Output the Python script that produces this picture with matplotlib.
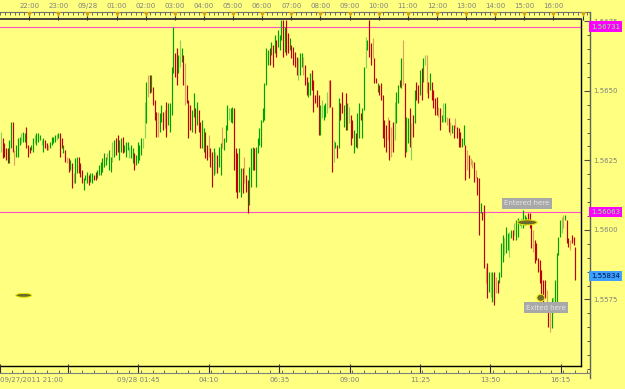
import matplotlib
matplotlib.use("Agg")
import matplotlib.pyplot as plt
import numpy as np
from matplotlib.patches import Ellipse
from matplotlib.ticker import FixedLocator, MultipleLocator, FixedFormatter, NullFormatter, FormatStrFormatter
import matplotlib.transforms as mtrans

# ---------------- data ----------------
bar_first_min = 2      # minutes after 09/27/2011 21:00
bar_last_min = 1185

highs = [
 1.56353,1.56331,1.56313,1.56295,1.56295,1.56324,1.56389,1.56389,1.56288,1.56306,
 1.56331,1.56335,1.56349,1.56353,1.56349,1.56371,1.56306,1.56299,1.56306,1.56331,
 1.56342,1.56349,1.56349,1.56342,1.56324,1.56331,1.56324,1.56313,1.56306,1.56317,
 1.56335,1.56335,1.56342,1.56346,1.56349,1.56349,1.56331,1.56306,1.56288,1.56263,
 1.56259,1.56252,1.56241,1.56205,1.56259,1.56263,1.56263,1.56241,1.56216,1.56187,
 1.56198,1.56209,1.56198,1.56205,1.56205,1.56198,1.56209,1.56216,1.56234,1.56245,
 1.56259,1.56277,1.56263,1.56277,1.56288,1.56263,1.56317,1.56324,1.56331,1.56342,
 1.56324,1.56331,1.56335,1.56306,1.56317,1.56317,1.56299,1.56306,1.56295,1.56277,
 1.56270,1.56317,1.56306,1.56331,1.56331,
 1.56461,1.56533,1.56558,1.56558,1.56558,1.56515,1.56468,1.56425,1.56425,1.56421,
 1.56450,1.56425,1.56432,1.56461,1.56457,1.56457,1.56587,1.56731,1.56637,1.56655,
 1.56630,1.56684,1.56655,1.56630,1.56601,1.56522,1.56468,1.56450,1.56432,1.56493,
 1.56439,1.56461,1.56432,1.56389,1.56396,1.56367,1.56353,1.56306,1.56342,1.56295,
 1.56281,1.56295,1.56281,1.56270,1.56299,1.56313,1.56371,1.56331,1.56378,1.56450,
 1.56439,1.56439,1.56443,1.56439,1.56295,1.56277,1.56295,1.56223,1.56223,1.56263,
 1.56198,1.56180,1.56227,1.56295,1.56299,1.56295,1.56299,1.56331,1.56367,1.56396,
 1.56439,1.56529,1.56655,1.56648,1.56655,1.56677,1.56666,1.56702,1.56684,1.56720,
 1.56702,1.56756,1.56756,1.56731,1.56756,
 1.56709,1.56691,1.56666,1.56659,1.56641,1.56623,1.56619,1.56637,1.56637,1.56623,
 1.56594,1.56551,1.56533,1.56565,1.56576,1.56540,1.56486,1.56504,1.56486,1.56450,
 1.56468,1.56450,1.56457,1.56497,1.56540,1.56540,1.56443,1.56324,1.56317,1.56306,
 1.56475,1.56457,1.56497,1.56450,1.56493,1.56457,1.56443,1.56414,1.56396,1.56360,
 1.56349,1.56421,1.56457,1.56421,1.56439,1.56587,1.56695,1.56684,1.56756,1.56673,
 1.56691,1.56619,1.56547,1.56529,1.56522,1.56529,1.56486,1.56396,1.56378,1.56407,
 1.56396,1.56371,1.56389,1.56461,1.56497,1.56522,1.56540,1.56619,1.56684,1.56529,
 1.56407,1.56403,1.56439,1.56385,1.56414,1.56504,1.56533,1.56522,1.56576,1.56583,
 1.56619,1.56630,1.56630,1.56533,1.56565,1.56533,1.56504,1.56475,
 1.56479,1.56443,1.56439,1.56414,1.56457,1.56457,1.56407,1.56403,1.56389,1.56378,
 1.56378,1.56403,1.56371,1.56367,1.56353,1.56331,1.56378,1.56306,1.56288,1.56270,
 1.56259,1.56252,1.56245,1.56216,1.56191,1.56187,1.56097,1.56065,1.56090,1.55867,
 1.55881,1.55849,1.55849,1.55849,1.55849,1.55831,1.55820,1.55849,1.55953,1.55982,
 1.55971,1.56011,1.55989,1.55993,1.56000,1.56000,1.56025,1.56036,1.56043,1.56036,
 1.56043,1.56072,1.56054,1.56047,1.56061,1.56061,1.56029,1.56000,1.55964,1.55953,
 1.55899,1.55892,1.55856,1.55820,1.55820,1.55784,1.55712,1.55712,1.55755,1.55759,
 1.55820,1.55917,1.55975,1.56036,1.56047,1.56054,1.56054,1.56036,1.55971,1.55964,
 1.55982,1.55975,1.55939,
]

lows = [
 1.56281,1.56259,1.56263,1.56252,1.56241,1.56241,1.56295,1.56281,1.56234,1.56263,
 1.56263,1.56306,1.56313,1.56317,1.56317,1.56295,1.56263,1.56277,1.56288,1.56281,
 1.56313,1.56306,1.56317,1.56324,1.56306,1.56281,1.56295,1.56288,1.56288,1.56295,
 1.56306,1.56313,1.56317,1.56324,1.56331,1.56263,1.56295,1.56277,1.56245,1.56241,
 1.56209,1.56216,1.56151,1.56169,1.56169,1.56205,1.56205,1.56191,1.56169,1.56144,
 1.56180,1.56169,1.56162,1.56173,1.56169,1.56180,1.56180,1.56187,1.56198,1.56198,
 1.56209,1.56227,1.56234,1.56252,1.56216,1.56209,1.56245,1.56263,1.56270,1.56281,
 1.56252,1.56281,1.56277,1.56281,1.56263,1.56288,1.56259,1.56259,1.56241,1.56216,
 1.56234,1.56241,1.56252,1.56270,1.56295,
 1.56331,1.56385,1.56479,1.56493,1.56497,1.56450,1.56396,1.56335,1.56335,1.56353,
 1.56389,1.56360,1.56367,1.56335,1.56378,1.56353,1.56414,1.56565,1.56551,1.56522,
 1.56565,1.56587,1.56605,1.56522,1.56450,1.56457,1.56331,1.56360,1.56353,1.56407,
 1.56349,1.56378,1.56353,1.56295,1.56295,1.56281,1.56259,1.56252,1.56263,1.56227,
 1.56155,1.56198,1.56205,1.56205,1.56227,1.56198,1.56295,1.56288,1.56317,1.56360,
 1.56396,1.56389,1.56385,1.56216,1.56137,1.56115,1.56137,1.56119,1.56133,1.56169,
 1.56137,1.56061,1.56090,1.56155,1.56216,1.56216,1.56155,1.56277,1.56306,1.56299,
 1.56389,1.56396,1.56522,1.56594,1.56594,1.56630,1.56587,1.56637,1.56623,1.56659,
 1.56648,1.56684,1.56623,1.56641,1.56630,
 1.56637,1.56648,1.56619,1.56594,1.56587,1.56558,1.56540,1.56558,1.56587,1.56558,
 1.56522,1.56486,1.56479,1.56486,1.56504,1.56425,1.56457,1.56443,1.56342,1.56342,
 1.56403,1.56396,1.56407,1.56421,1.56439,1.56443,1.56209,1.56245,1.56295,1.56259,
 1.56295,1.56396,1.56421,1.56371,1.56360,1.56360,1.56385,1.56306,1.56331,1.56277,
 1.56299,1.56295,1.56331,1.56396,1.56331,1.56432,1.56583,1.56648,1.56623,1.56594,
 1.56619,1.56529,1.56529,1.56497,1.56486,1.56468,1.56331,1.56299,1.56281,1.56324,
 1.56252,1.56263,1.56281,1.56324,1.56385,1.56457,1.56515,1.56511,1.56522,1.56263,
 1.56281,1.56313,1.56299,1.56252,1.56335,1.56385,1.56468,1.56457,1.56486,1.56468,
 1.56533,1.56594,1.56493,1.56475,1.56504,1.56468,1.56439,1.56414,
 1.56414,1.56407,1.56360,1.56389,1.56389,1.56389,1.56378,1.56353,1.56342,1.56349,
 1.56331,1.56367,1.56331,1.56299,1.56299,1.56299,1.56306,1.56180,1.56216,1.56187,
 1.56234,1.56223,1.56173,1.56187,1.56126,1.55982,1.56061,1.56036,1.55863,1.55809,
 1.55755,1.55777,1.55759,1.55741,1.55730,1.55773,1.55773,1.55809,1.55831,1.55885,
 1.55910,1.55917,1.55928,1.55903,1.55971,1.55964,1.55982,1.55964,1.55975,1.56018,
 1.56007,1.56007,1.56018,1.56025,1.56025,1.56007,1.55935,1.55921,1.55881,1.55892,
 1.55849,1.55809,1.55759,1.55737,1.55755,1.55712,1.55651,1.55633,1.55647,1.55701,
 1.55737,1.55737,1.55910,1.55975,1.55989,1.56007,1.56036,1.55953,1.55939,1.55928,
 1.55953,1.55946,1.55820,
]

# candle category: G up (wick), g up (body), R down (wick), o down (body)
kinds = ("gRRRRGGRoG" "GGgGGRRRGG" "gGGGgGRRoG" "GGGgGRRGRo" "RGRoGGRRRG"
         "GGRGGRRGGG" "GGGoGGgGRR" "GGRGGGgGGR" "GGGGg"
         "gGoRGRRRoG" "GRoRGGGGRR" "GgGRoRRRGG" "RGRRGGRRoR" "RGgRGGoGGG"
         "gGGRRRGGRo" "RRGGGRGGGG" "GGGGRGRGRG" "GGRGR"
         "RGRRRRgGGo" "RRGGRRRRRG" "gGGgoRRgGR" "GRRGRGgRRG" "RGGRGGgGRR"
         "oRRGRRRRRo" "RoRgGGRGoR" "GGRgRGRRGR" "GgoRGRRR"
         "RoRGgGoRoG" "RoRRRGGRoR" "ooRoRRGRRo" "RGgGRoRGGG" "gGGgGRgGGG"
         "gGGGRRRoRR" "RRRRRoRoGg" "GGGGgoGRRo" "RRR")

hline_levels = [1.56731, 1.56063]
last_price = 1.55834
price_ticks = [1.5575, 1.5600, 1.5625, 1.5650, 1.5675]

top_tick_min = [60, 120, 180, 240, 300, 360, 420, 480, 540, 600, 660, 720,
                780, 840, 900, 960, 1020, 1080, 1140, 1200]
top_tick_lbl = ["22:00", "23:00", "09/28", "01:00", "02:00", "03:00", "04:00",
                "05:00", "06:00", "07:00", "08:00", "09:00", "10:00", "11:00",
                "12:00", "13:00", "14:00", "15:00", "16:00", ""]
bot_tick_min = [0, 140, 285, 430, 575, 720, 865, 1010, 1155]
bot_tick_lbl = ["09/27/2011 21:00", "", "09/28 01:45", "04:10", "06:35",
                "09:00", "11:25", "13:50", "16:15"]

entered = (1085, 1.56095, "Entered here")
exited = (1125, 1.55720, "Exited here")
marks = [(1086, 1.56027, 41, 0.00018), (1114, 1.55756, 16, 0.00025),
         (49, 1.55765, 33, 0.00014)]

# ---------------- layout ----------------
W, H = 625, 389
MPP = 2.06          # minutes per pixel
Y_LO, Y_HI = 1.55511, 1.56758
BG = '#FFFF80'
GRAY = '#808080'
FS = 5.0
plt.rcParams['font.family'] = ['DejaVu Sans']

def fx(px):
    return px / W

def fy(py):
    return 1 - py / H

fig = plt.figure(figsize=(W / 100, H / 100), dpi=100, facecolor=BG)

# main plot
ax = fig.add_axes([0, fy(366), fx(581), (366 - 19) / H])
ax.set_facecolor(BG)
ax.set_xlim(0, 581 * MPP)
ax.set_ylim(Y_LO, Y_HI)
ax.set_xticks([])
ax.set_yticks([])
ax.spines['left'].set_visible(False)
ax.spines['top'].set_color('#333333')
ax.spines['top'].set_linewidth(1.3)
ax.spines['right'].set_color('#000000')
ax.spines['right'].set_linewidth(1.0)
ax.spines['bottom'].set_color('#000000')
ax.spines['bottom'].set_linewidth(1.0)

n = len(highs)
times = np.linspace(bar_first_min, bar_last_min, n)
cmap = {'G': '#00A000', 'g': '#8CD25A', 'R': '#C00000', 'o': '#E0A060'}
cols = [cmap[k] for k in kinds[:n]]
ax.vlines(times, lows, highs, colors=cols, linewidth=0.85, zorder=3)

for lv in hline_levels:
    ax.axhline(lv, color='#FF50C8', lw=0.8, zorder=2)

for (mx, my, mw, mh) in marks:
    ax.add_patch(Ellipse((mx, my), mw, mh, facecolor='#6B6B2A',
                         edgecolor='#E8E800', lw=0.7, zorder=5))

for (tx, ty, tt) in (entered, exited):
    ax.text(tx, ty, tt, fontsize=FS, color='#E6E6E6', ha='center', va='center',
            zorder=6, bbox=dict(boxstyle='square,pad=0.35', facecolor='#A8A8A8',
                                edgecolor='none'))

# right price axis
kpx = (Y_HI - Y_LO) / 347.0
axr = fig.add_axes([fx(581), fy(378), 9 / W, (378 - 12) / H])
axr.patch.set_alpha(0)
axr.set_xlim(0, 1)
axr.set_ylim(Y_LO - 12 * kpx, Y_HI + 7 * kpx)
for s in ['left', 'top', 'bottom']:
    axr.spines[s].set_visible(False)
axr.spines['right'].set_color('#606060')
axr.spines['right'].set_linewidth(1.0)
axr.set_xticks([])
axr.yaxis.tick_right()
axr.yaxis.set_major_locator(FixedLocator(price_ticks))
axr.yaxis.set_major_formatter(FormatStrFormatter('%.4f'))
axr.yaxis.set_minor_locator(MultipleLocator(0.0005))
axr.tick_params(axis='y', which='major', direction='in', length=4.3, width=0.8,
                color='#505050', labelsize=FS, labelcolor=GRAY, pad=2)
axr.tick_params(axis='y', which='minor', direction='in', length=2.5, width=0.7,
                color='#505050')

blend = mtrans.blended_transform_factory(axr.transAxes, axr.transData)
for lv in hline_levels:
    axr.text(1.12, lv, f"{lv:.5f}", transform=blend, fontsize=FS, color='#80FF80',
             ha='left', va='center', zorder=10,
             bbox=dict(boxstyle='square,pad=0.3', facecolor='#FF00FF', edgecolor='none'))
axr.text(1.12, last_price, f"{last_price:.5f}", transform=blend, fontsize=FS,
         color='#001040', ha='left', va='center', zorder=10,
         bbox=dict(boxstyle='square,pad=0.3', facecolor='#3CA0FF', edgecolor='none'))

# top time ruler
axt = fig.add_axes([0, fy(19), fx(590), 7 / H])
axt.patch.set_alpha(0)
axt.set_xlim(0, 590 * MPP)
axt.set_ylim(0, 1)
for s in ['left', 'right', 'bottom']:
    axt.spines[s].set_visible(False)
axt.spines['top'].set_color('#707070')
axt.spines['top'].set_linewidth(0.8)
axt.set_yticks([])
axt.xaxis.tick_top()
axt.xaxis.set_major_locator(FixedLocator(top_tick_min))
axt.xaxis.set_major_formatter(FixedFormatter(top_tick_lbl))
axt.xaxis.set_minor_locator(MultipleLocator(10))
axt.tick_params(axis='x', which='major', direction='in', length=5.8, width=0.8,
                color='#303030', labelsize=FS, labelcolor=GRAY, pad=2.5)
axt.tick_params(axis='x', which='minor', direction='in', length=2.0, width=0.6,
                color='#505050')
axt.scatter(top_tick_min, [0.72] * len(top_tick_min), marker='v', s=14,
            color='#D4A017', zorder=5, clip_on=False, linewidths=0)

# bottom time ruler
axb = fig.add_axes([0, fy(373), fx(590), 7 / H])
axb.patch.set_alpha(0)
axb.set_xlim(0, 590 * MPP)
axb.set_ylim(0, 1)
for s in ['left', 'right', 'top']:
    axb.spines[s].set_visible(False)
axb.spines['bottom'].set_color('#808080')
axb.spines['bottom'].set_linewidth(0.8)
axb.set_yticks([])
axb.xaxis.set_major_locator(FixedLocator(bot_tick_min))
axb.xaxis.set_major_formatter(FixedFormatter(bot_tick_lbl))
axb.xaxis.set_minor_locator(MultipleLocator(145 / 6))
axb.tick_params(axis='x', which='major', direction='in', length=6.5, width=0.8,
                color='#303030', labelsize=FS, labelcolor=GRAY, pad=3)
axb.tick_params(axis='x', which='minor', direction='in', length=2.0, width=0.6,
                color='#505050')
lbls = axb.get_xticklabels()
lbls[0].set_horizontalalignment('left')

fig.savefig('out.png', dpi=100, facecolor=BG)
